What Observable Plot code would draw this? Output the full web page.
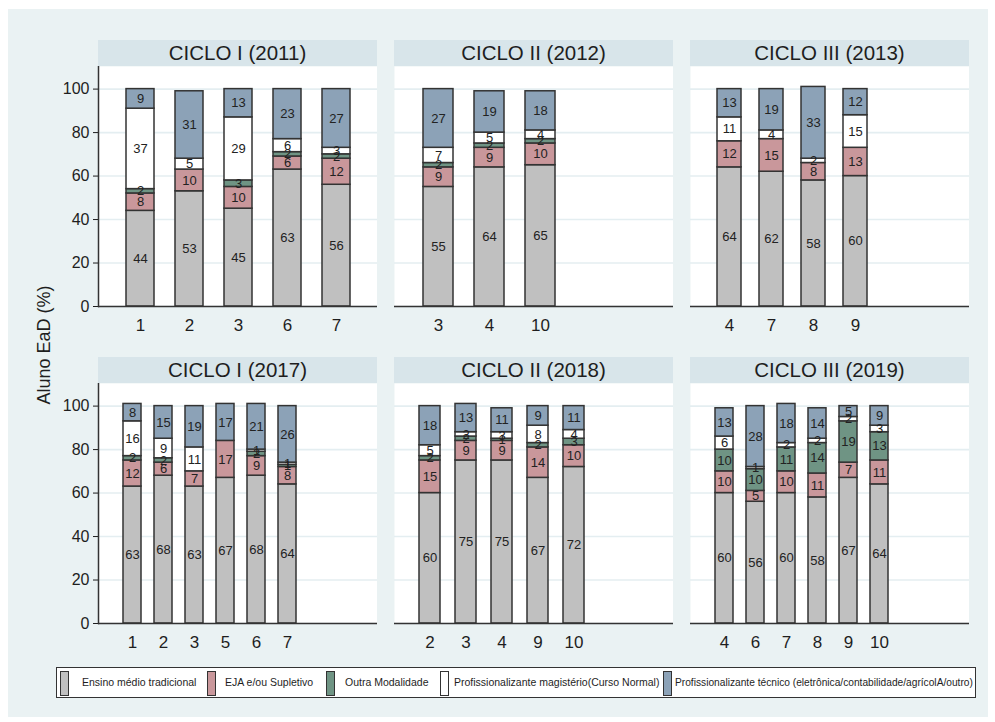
<!DOCTYPE html>
<html>
<head>
<meta charset="utf-8">
<script src="https://cdn.jsdelivr.net/npm/d3@7"></script>
<script src="https://cdn.jsdelivr.net/npm/@observablehq/plot@0.6"></script>
<style>
  html, body { margin: 0; padding: 0; background: #ffffff; }
  body { font-family: "Liberation Sans", Arial, sans-serif; }
  #fig { position: relative; width: 995px; height: 722px; overflow: hidden; background: #ffffff; }
  #bg { position: absolute; left: 8px; top: 9px; width: 980px; height: 708px; background: #EAF2F3; }
  .strip { position: absolute; height: 26px; background: #D8E5EA; color: #1e1e1e;
           font-size: 20.5px; line-height: 26px; text-align: center; }
  .panel { position: absolute; }
  #ylab { position: absolute; left: 44px; top: 345px; transform: translate(-50%, -50%) rotate(-90deg);
          font-size: 18px; color: #1e1e1e; white-space: nowrap; }
  #legend { position: absolute; left: 56px; top: 667px; width: 920px; height: 31px;
            background: #ffffff; border: 1px solid #333; box-sizing: border-box; }
  .sw { position: absolute; top: 3px; width: 7px; height: 23px; border: 1.5px solid #333; }
  .lt { position: absolute; top: 0; line-height: 29px; font-size: 10.5px; color: #1e1e1e; white-space: nowrap; }
  .lt.last { font-size: 10.2px; }
</style>
</head>
<body>
<div id="fig">
  <div id="bg"></div>
  <div id="ylab">Aluno EaD (%)</div>
  <div id="legend"></div>
</div>
<script>
// Series, stacked from the bottom up
const series = [
  "Ensino médio tradicional",
  "EJA e/ou Supletivo",
  "Outra Modalidade",
  "Profissionalizante magistério(Curso Normal)",
  "Profissionalizante técnico (eletrônica/contabilidade/agrícolA/outro)"
];
const colors = ["#C0C0C0", "#C9979B", "#6F9484", "#FFFFFF", "#8CA2B7"];

// Panel titles
const panelTitles = ["CICLO I (2011)", "CICLO II (2012)", "CICLO III (2013)",
                     "CICLO I (2017)", "CICLO II (2018)", "CICLO III (2019)"];

// CICLO I (2011)
const cat2011 = ["1", "2", "3", "6", "7"];
const ensino2011 = [44, 53, 45, 63, 56];
const eja2011 = [8, 10, 10, 6, 12];
const outra2011 = [2, 0, 3, 2, 2];
const magisterio2011 = [37, 5, 29, 6, 3];
const tecnico2011 = [9, 31, 13, 23, 27];

// CICLO II (2012)
const cat2012 = ["3", "4", "10"];
const ensino2012 = [55, 64, 65];
const eja2012 = [9, 9, 10];
const outra2012 = [2, 2, 2];
const magisterio2012 = [7, 5, 4];
const tecnico2012 = [27, 19, 18];

// CICLO III (2013)
const cat2013 = ["4", "7", "8", "9"];
const ensino2013 = [64, 62, 58, 60];
const eja2013 = [12, 15, 8, 13];
const outra2013 = [0, 0, 0, 0];
const magisterio2013 = [11, 4, 2, 15];
const tecnico2013 = [13, 19, 33, 12];

// CICLO I (2017)
const cat2017 = ["1", "2", "3", "5", "6", "7"];
const ensino2017 = [63, 68, 63, 67, 68, 64];
const eja2017 = [12, 6, 7, 17, 9, 8];
const outra2017 = [2, 2, 0, 0, 2, 1];
const magisterio2017 = [16, 9, 11, 0, 1, 1];
const tecnico2017 = [8, 15, 19, 17, 21, 26];

// CICLO II (2018)
const cat2018 = ["2", "3", "4", "9", "10"];
const ensino2018 = [60, 75, 75, 67, 72];
const eja2018 = [15, 9, 9, 14, 10];
const outra2018 = [2, 2, 1, 2, 3];
const magisterio2018 = [5, 2, 3, 8, 4];
const tecnico2018 = [18, 13, 11, 9, 11];

// CICLO III (2019)
const cat2019 = ["4", "6", "7", "8", "9", "10"];
const ensino2019 = [60, 56, 60, 58, 67, 64];
const eja2019 = [10, 5, 10, 11, 7, 11];
const outra2019 = [10, 10, 11, 14, 19, 13];
const magisterio2019 = [6, 1, 2, 2, 2, 3];
const tecnico2019 = [13, 28, 18, 14, 5, 9];

const yTicks = [0, 20, 40, 60, 80, 100];

// Panel geometry: grid position, spacing between bars and bar width
const panelDefs = [
  {cats: cat2011, vals: [ensino2011, eja2011, outra2011, magisterio2011, tecnico2011], left: 98,  top: 40,  step: 49,   bw: 28},
  {cats: cat2012, vals: [ensino2012, eja2012, outra2012, magisterio2012, tecnico2012], left: 394, top: 40,  step: 51.5, bw: 30},
  {cats: cat2013, vals: [ensino2013, eja2013, outra2013, magisterio2013, tecnico2013], left: 690, top: 40,  step: 42,   bw: 24},
  {cats: cat2017, vals: [ensino2017, eja2017, outra2017, magisterio2017, tecnico2017], left: 98,  top: 357, step: 31.3, bw: 18},
  {cats: cat2018, vals: [ensino2018, eja2018, outra2018, magisterio2018, tecnico2018], left: 394, top: 357, step: 36,   bw: 20.5},
  {cats: cat2019, vals: [ensino2019, eja2019, outra2019, magisterio2019, tecnico2019], left: 690, top: 357, step: 31.3, bw: 18}
];

const fig = document.getElementById("fig");
const panelW = 279, stripH = 26, plotH = 240, mb = 40;

panelDefs.forEach((p, i) => {
  const strip = document.createElement("div");
  strip.className = "strip";
  strip.style.left = p.left + "px";
  strip.style.top = p.top + "px";
  strip.style.width = panelW + "px";
  strip.textContent = panelTitles[i];
  fig.appendChild(strip);

  const rows = [];
  p.cats.forEach((c, j) => series.forEach((s, k) => rows.push({cat: c, series: s, value: p.vals[k][j]})));

  const leftCol = p.left === 98;
  const ml = leftCol ? 60 : 0;
  const n = p.cats.length;
  const pad = 1 - p.bw / p.step;

  const marks = [
    Plot.frame({fill: "#ffffff", stroke: null}),
    Plot.ruleY(yTicks, {stroke: "#E4EEF1", strokeWidth: 1.6}),
    Plot.barY(rows, {x: "cat", y: "value", z: "series", fill: "series", order: series,
                     stroke: "#333333", strokeWidth: 1.5}),
    Plot.text(rows.filter(d => d.value > 0), Plot.stackY({x: "cat", y: "value", z: "series", order: series,
                     text: "value", fontSize: 13, fill: "#222222"})),
    Plot.ruleY([0], {stroke: "#333333", strokeWidth: 1.5}),
    Plot.axisX({tickSize: 0, tickPadding: 12, fontSize: 17, fill: "#1e1e1e", label: null})
  ];
  if (leftCol) {
    marks.push(Plot.axisY({ticks: yTicks, tickSize: 5, tickPadding: 4, fontSize: 16, fill: "#1e1e1e", label: null}));
    marks.push(Plot.frame({anchor: "left", stroke: "#333333", strokeWidth: 1.5}));
  }

  const chart = Plot.plot({
    width: ml + panelW,
    height: plotH + mb,
    marginLeft: ml, marginRight: 0, marginTop: 0, marginBottom: mb,
    style: {background: "transparent", fontFamily: "Liberation Sans, Arial, sans-serif", color: "#1e1e1e"},
    x: {type: "band", domain: p.cats, range: [ml + 17.5, ml + 17.5 + n * p.step],
        paddingInner: pad, paddingOuter: pad / 2, align: 0.5, axis: null},
    y: {domain: [0, 110.4], axis: null},
    color: {domain: series, range: colors},
    marks
  });
  chart.classList.add("panel");
  chart.style.left = (p.left - ml) + "px";
  chart.style.top = (p.top + stripH) + "px";
  fig.appendChild(chart);
});

// Legend
const legend = document.getElementById("legend");
const legendX = [[3, 25], [150, 168], [269, 288], [383, 397], [606, 618]];
series.forEach((s, k) => {
  const sw = document.createElement("div");
  sw.className = "sw";
  sw.style.left = legendX[k][0] + "px";
  sw.style.background = colors[k];
  legend.appendChild(sw);
  const t = document.createElement("div");
  t.className = k === series.length - 1 ? "lt last" : "lt";
  t.style.left = legendX[k][1] + "px";
  t.textContent = s;
  legend.appendChild(t);
});
</script>
</body>
</html>
